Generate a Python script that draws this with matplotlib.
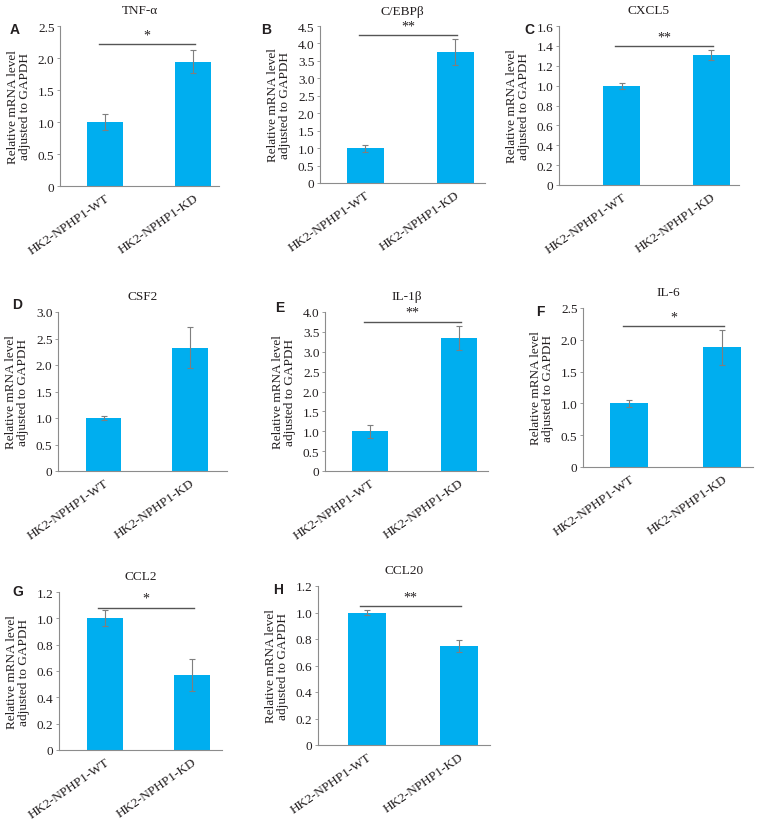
import matplotlib.pyplot as plt
from matplotlib.ticker import FuncFormatter
import numpy as np

plt.rcParams['font.family'] = ['Liberation Serif', 'DejaVu Serif']

groups = ['HK2-NPHP1-WT', 'HK2-NPHP1-KD']
genes = ['TNF-α', 'C/EBPβ', 'CXCL5', 'CSF2', 'IL-1β', 'IL-6', 'CCL2', 'CCL20']
letters = ['A', 'B', 'C', 'D', 'E', 'F', 'G', 'H']
means = [[1.00, 1.94], [1.00, 3.76], [1.00, 1.31], [1.00, 2.33],
         [1.00, 3.34], [1.00, 1.88], [1.00, 0.57], [1.00, 0.745]]
errs = [[0.12, 0.18], [0.10, 0.38], [0.03, 0.05], [0.03, 0.39],
        [0.16, 0.30], [0.06, 0.27], [0.06, 0.12], [0.02, 0.045]]
ymax = [2.5, 4.5, 1.6, 3.0, 4.0, 2.5, 1.2, 1.2]
ystep = [0.5, 0.5, 0.2, 0.5, 0.5, 0.5, 0.2, 0.2]
stars = ['*', '**', '**', '', '**', '*', '*', '**']
sig_y = [2.22, 4.23, 1.40, None, 3.76, 2.21, 1.08, 1.05]

# layout in pixels: x0, ytop, x1, ybottom, xlim left, xlim right
boxes = [(60, 27, 219, 187, -0.51, 1.29), (320, 27, 485, 184, -0.50, 1.33),
         (559, 27, 739, 186, -0.70, 1.31), (58, 313, 227, 472, -0.53, 1.43),
         (325, 313, 488, 472, -0.51, 1.33), (583, 309, 753, 468, -0.50, 1.33),
         (59, 593, 222, 751, -0.52, 1.34), (318, 587, 490, 746, -0.53, 1.34)]
letter_pos = [(10, 30), (261, 30), (524, 30), (12, 305), (275, 308),
              (536, 312), (12, 592), (273, 590)]

W, H = 759, 820
bar_color = '#00AEEF'
txt = '#231f20'

fig = plt.figure(figsize=(W / 100, H / 100), dpi=100)

for i in range(8):
    x0, yt, x1, yb, xl, xr = boxes[i]
    ax = fig.add_axes([x0 / W, 1 - yb / H, (x1 - x0) / W, (yb - yt) / H])
    x = np.arange(2)
    ax.bar(x, means[i], width=0.41, color=bar_color, zorder=2)
    ax.errorbar(x, means[i], yerr=errs[i], fmt='none', ecolor='#7f7f7f',
                elinewidth=0.8, capsize=2, capthick=0.8, zorder=3)
    ax.set_xlim(xl, xr)
    ax.set_ylim(0, ymax[i])
    ax.set_yticks(np.arange(0, ymax[i] + 1e-6, ystep[i]))
    ax.yaxis.set_major_formatter(FuncFormatter(lambda v, p: '0' if abs(v) < 1e-9 else f'{v:.1f}'))
    ax.set_xticks(x)
    ax.set_xticklabels(groups, rotation=35, ha='right', rotation_mode='anchor',
                       fontsize=9.5, color=txt)
    ax.tick_params(axis='x', length=0, pad=4)
    ax.tick_params(axis='y', length=2.5, width=0.6, color='#8c8c8c',
                   labelsize=9.5, labelcolor=txt, pad=1.5)
    for s in ['top', 'right']:
        ax.spines[s].set_visible(False)
    for s in ['left', 'bottom']:
        ax.spines[s].set_color('#8c8c8c')
        ax.spines[s].set_linewidth(0.8)
    ax.set_ylabel('Relative mRNA level\nadjusted to GAPDH', fontsize=9.5,
                  color=txt, linespacing=1.0, labelpad=5)
    ax.set_title(genes[i], fontsize=9.5, color=txt, pad=9)
    if sig_y[i] is not None:
        ax.plot([-0.07, 1.02], [sig_y[i], sig_y[i]], color='#555555', lw=1.0,
                clip_on=False, zorder=4)
        ax.annotate(stars[i], xy=(0.475, sig_y[i]), xytext=(0, 2),
                    textcoords='offset points', ha='center', va='bottom',
                    fontsize=10, color=txt, annotation_clip=False)
    lx, ly = letter_pos[i]
    fig.text(lx / W, 1 - ly / H, letters[i], fontsize=10, fontweight='bold',
             family='Liberation Sans', color=txt, ha='left', va='center')

fig.savefig('out.png', dpi=100)
